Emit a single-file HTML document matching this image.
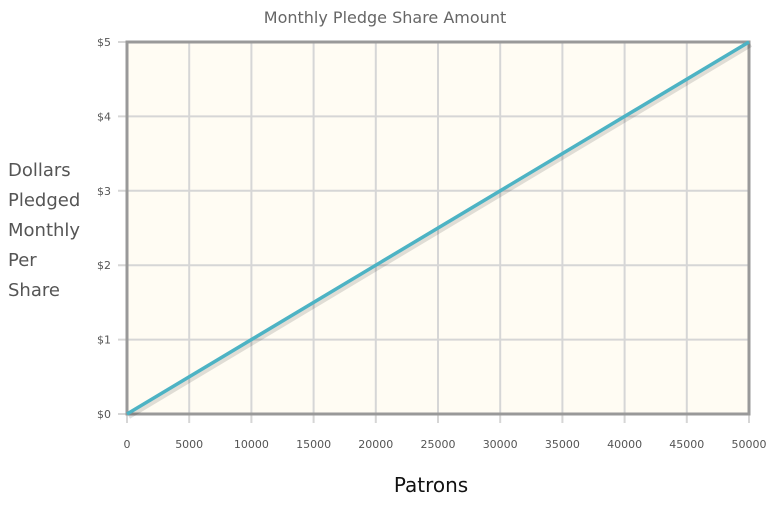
<!DOCTYPE html>
<html><head><meta charset="utf-8"><style>
body{margin:0;background:#fff;width:776px;height:507px;overflow:hidden;font-family:"DejaVu Sans","Liberation Sans",sans-serif}
</style></head><body>
<svg width="776" height="507">
<text x="385" y="23" text-anchor="middle" font-size="16" fill="#666">Monthly Pledge Share Amount</text>
<g font-size="18" fill="#555">
<text x="8" y="176">Dollars</text><text x="8" y="206">Pledged</text><text x="8" y="236">Monthly</text><text x="8" y="266">Per</text><text x="8" y="296">Share</text></g>
<text x="431" y="492" text-anchor="middle" font-size="20" fill="#111">Patrons</text>
<g id="plot"></g>
</svg>
<script>
const xTicks=[0,5000,10000,15000,20000,25000,30000,35000,40000,45000,50000];
const yTicks=[0,1,2,3,4,5];
const yLabels=["$0","$1","$2","$3","$4","$5"];
const patrons=[0,50000];
const dollars=[0,5];
const L=127,R=749,T=42,B=414;
const X=v=>L+(v-0)/50000*(R-L), Y=v=>B-v/5*(B-T);
const ns="http://www.w3.org/2000/svg", g=document.getElementById('plot');
function mk(t,a){const e=document.createElementNS(ns,t);for(const k in a)e.setAttribute(k,a[k]);g.appendChild(e);return e;}
let bg=mk('rect',{x:L,y:T,width:R-L,height:B-T,fill:'#fffcf3'});


xTicks.forEach(v=>{
 let l=mk('line',{x1:X(v),x2:X(v),y1:T,y2:B+9,stroke:'#d6d6d6','stroke-width':2});
 
 
 let t=mk('text',{x:X(v),y:448,'text-anchor':'middle','font-size':11,fill:'#555'});t.textContent=v;
 
 
});
yTicks.forEach((v,i)=>{
 let l=mk('line',{x1:L-9,x2:R,y1:Y(v),y2:Y(v),stroke:'#d6d6d6','stroke-width':2});
 
 
 let t=mk('text',{x:111,y:Y(v)+4,'text-anchor':'end','font-size':11,fill:'#555'});t.textContent=yLabels[i];
 
 
});
let fr=mk('rect',{x:L,y:T,width:R-L,height:B-T,fill:'none',stroke:'#999','stroke-width':3});


let pts=patrons.map((p,i)=>X(p)+','+Y(dollars[i])).join(' ');
let sh=mk('polyline',{points:patrons.map((p,i)=>(X(p)+2)+','+(Y(dollars[i])+3)).join(' '),fill:'none',stroke:'rgba(0,0,0,0.12)','stroke-width':4});


let ln=mk('polyline',{points:pts,fill:'none',stroke:'#4db3c4','stroke-width':3.5});


</script>
</body></html>
